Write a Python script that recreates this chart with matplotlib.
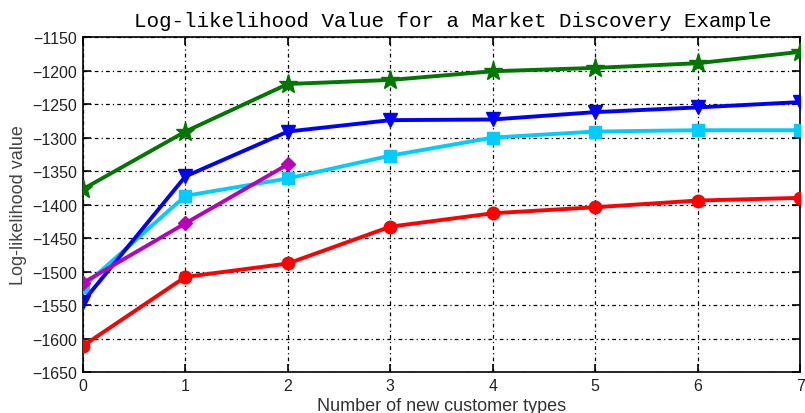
import matplotlib
matplotlib.use("Agg")
import matplotlib.pyplot as plt

new_types = [0, 1, 2, 3, 4, 5, 6, 7]
red_vals = [-1611, -1508, -1488, -1433, -1413, -1404, -1394, -1390]
cyan_vals = [-1523, -1387, -1361, -1327, -1300, -1291, -1289, -1289]
blue_vals = [-1545, -1358, -1291, -1274, -1273, -1262, -1255, -1247]
magenta_x = [0, 1, 2]
magenta_vals = [-1517, -1428, -1340]
green_vals = [-1377, -1291, -1220, -1214, -1201, -1196, -1189, -1172]
y_ticks = [-1650, -1600, -1550, -1500, -1450, -1400, -1350, -1300, -1250, -1200, -1150]

fig = plt.figure(figsize=(8.05, 4.14), dpi=100)
ax = fig.add_axes([0.103, 0.099, 0.891, 0.809])

lw = 2.8
ax.plot(new_types, red_vals, color="#ff0000", lw=lw, marker="o", ms=9, zorder=3)
ax.plot(new_types, cyan_vals, color="#00ccff", lw=lw, marker="s", ms=9, zorder=3)
ax.plot(new_types, blue_vals, color="#0000ff", lw=lw, marker="v", ms=10, zorder=4)
ax.plot(magenta_x, magenta_vals, color="#bb00bb", lw=lw, marker="D", ms=7, zorder=5)
ax.plot(new_types, green_vals, color="#007700", lw=lw, marker="*", ms=14, zorder=6)

ax.set_xlim(0, 7)
ax.set_ylim(-1650, -1150)
ax.set_xticks(new_types)
ax.set_yticks(y_ticks)
ax.grid(True, color="black", linestyle=(0, (3, 2.5, 1, 2.5)), linewidth=0.9)
ax.tick_params(direction="in", length=6, width=1.2, top=True, right=True,
               labelsize=11.5, pad=4, labelcolor="#222222")
for lab in ax.get_xticklabels() + ax.get_yticklabels():
    lab.set_family("Liberation Sans")
for sp in ax.spines.values():
    sp.set_linewidth(1.2)

ax.set_xlabel("Number of new customer types", family="Liberation Sans",
              fontsize=13, labelpad=3, color="#333333")
ax.set_ylabel("Log-likelihood value", family="Liberation Sans",
              fontsize=13, labelpad=4, color="#444444")
ax.set_title("Log-likelihood Value for a Market Discovery Example",
             family="Liberation Mono", fontsize=15, pad=8, x=0.515)

fig.savefig("out.png", dpi=100)
